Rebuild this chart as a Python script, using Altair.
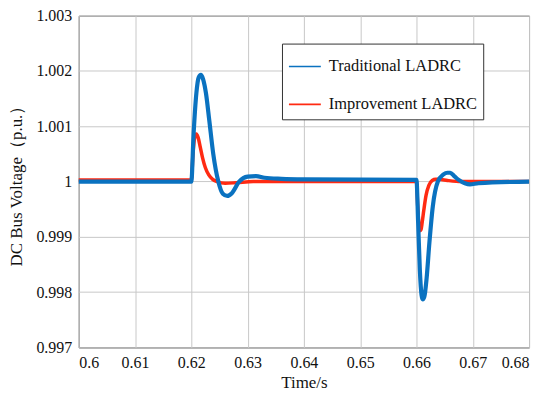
import altair as alt
import pandas as pd

series = ["Traditional LADRC", "Improvement LADRC"]
colors = ["#0a72c0", "#ff2a12"]

blue_t = [0.6, 0.62, 0.6204, 0.6209, 0.6213, 0.6217, 0.6221, 0.6226, 0.6232, 0.6239,
          0.6248, 0.6256, 0.6264, 0.6272, 0.6285, 0.63, 0.6315, 0.633, 0.636, 0.64,
          0.66, 0.6603, 0.6606, 0.6609, 0.6611, 0.6614, 0.6618, 0.6623, 0.6629, 0.6638,
          0.6648, 0.6655, 0.666, 0.6667, 0.6675, 0.6686, 0.6695, 0.671, 0.68]
blue_v = [1.0, 1.0, 1.00085, 1.0016, 1.00188, 1.00193, 1.00185, 1.0016, 1.0011, 1.0005,
          1.0, 0.99978, 0.99974, 0.99979, 1.0, 1.00009, 1.0001, 1.00007, 1.00005, 1.00004,
          1.00003, 0.99925, 0.9984, 0.99795, 0.99787, 0.99792, 0.99825, 0.9989, 0.99955, 1.0,
          1.00013, 1.00016, 1.00016, 1.0001, 1.00003, 0.99997, 0.99995, 0.99997, 1.0]

red_t = [0.6, 0.62, 0.6203, 0.6206, 0.6209, 0.6212, 0.6216, 0.622, 0.6225, 0.6231,
         0.6238, 0.6246, 0.626, 0.628, 0.631, 0.66, 0.6602, 0.6604, 0.6606, 0.6608,
         0.661, 0.6613, 0.6617, 0.6622, 0.6628, 0.6634, 0.664, 0.6655, 0.668, 0.68]
red_v = [1.00003, 1.00003, 1.0005, 1.0008, 1.00086, 1.0008, 1.00062, 1.00043, 1.00025, 1.00012,
         1.00004, 1.0, 0.99997, 0.99998, 1.0, 1.0, 0.9996, 0.99926, 0.99911, 0.99913,
         0.99925, 0.99948, 0.99975, 0.99993, 1.00002, 1.00004, 1.00004, 1.00002, 1.0, 1.0]

x_ticks = [0.6, 0.61, 0.62, 0.63, 0.64, 0.65, 0.66, 0.67, 0.68]
y_ticks = [0.997, 0.998, 0.999, 1.0, 1.001, 1.002, 1.003]

df_b = pd.DataFrame({"t": blue_t, "v": blue_v, "s": series[0]})
df_r = pd.DataFrame({"t": red_t, "v": red_v, "s": series[1]})

FONT = "Liberation Serif, Times New Roman, serif"

x = alt.X("t:Q", scale=alt.Scale(domain=[0.6, 0.68], nice=False, zero=False),
          axis=alt.Axis(values=x_ticks, format="~g", title="Time/s",
                        labelPadding=7, titlePadding=4,
                        labelFont=FONT, titleFont=FONT, labelFontSize=16,
                        titleFontSize=17, titleFontWeight="normal"))
y = alt.Y("v:Q", scale=alt.Scale(domain=[0.997, 1.003], nice=False, zero=False),
          axis=alt.Axis(values=y_ticks, format="~g", title="DC Bus Voltage（p.u.）",
                        labelPadding=7, titlePadding=10,
                        labelFont=FONT, titleFont=FONT, labelFontSize=16,
                        titleFontSize=17, titleFontWeight="normal"))
color = alt.Color("s:N", scale=alt.Scale(domain=series, range=colors),
                  legend=alt.Legend(title=None, orient="none", legendX=204, legendY=28,
                                    padding=6, rowPadding=12, symbolType="stroke",
                                    symbolSize=1024, symbolStrokeWidth=1.6,
                                    labelOffset=7, labelFont=FONT, labelFontSize=16.5,
                                    labelColor="#111", fillColor="white",
                                    strokeColor="#333"))

red = alt.Chart(df_r).mark_line(strokeWidth=3.5, interpolate="monotone").encode(x=x, y=y, color=color)
blue = alt.Chart(df_b).mark_line(strokeWidth=4.2, interpolate="monotone").encode(x=x, y=y, color=color)

chart = alt.layer(red, blue).properties(
    width=452, height=333,
    padding={"left": 71, "top": 7, "right": 13, "bottom": 45},
    autosize=alt.AutoSizeParams(type="none"),
).configure(font=FONT).configure_view(stroke="#404040", strokeWidth=1).configure_axis(
    grid=True, gridColor="#c8c8c8", gridWidth=1, domain=False, ticks=False,
    labelColor="#111", titleColor="#111",
)

chart.save("out.html", embed_options={"renderer": "svg", "actions": False})
